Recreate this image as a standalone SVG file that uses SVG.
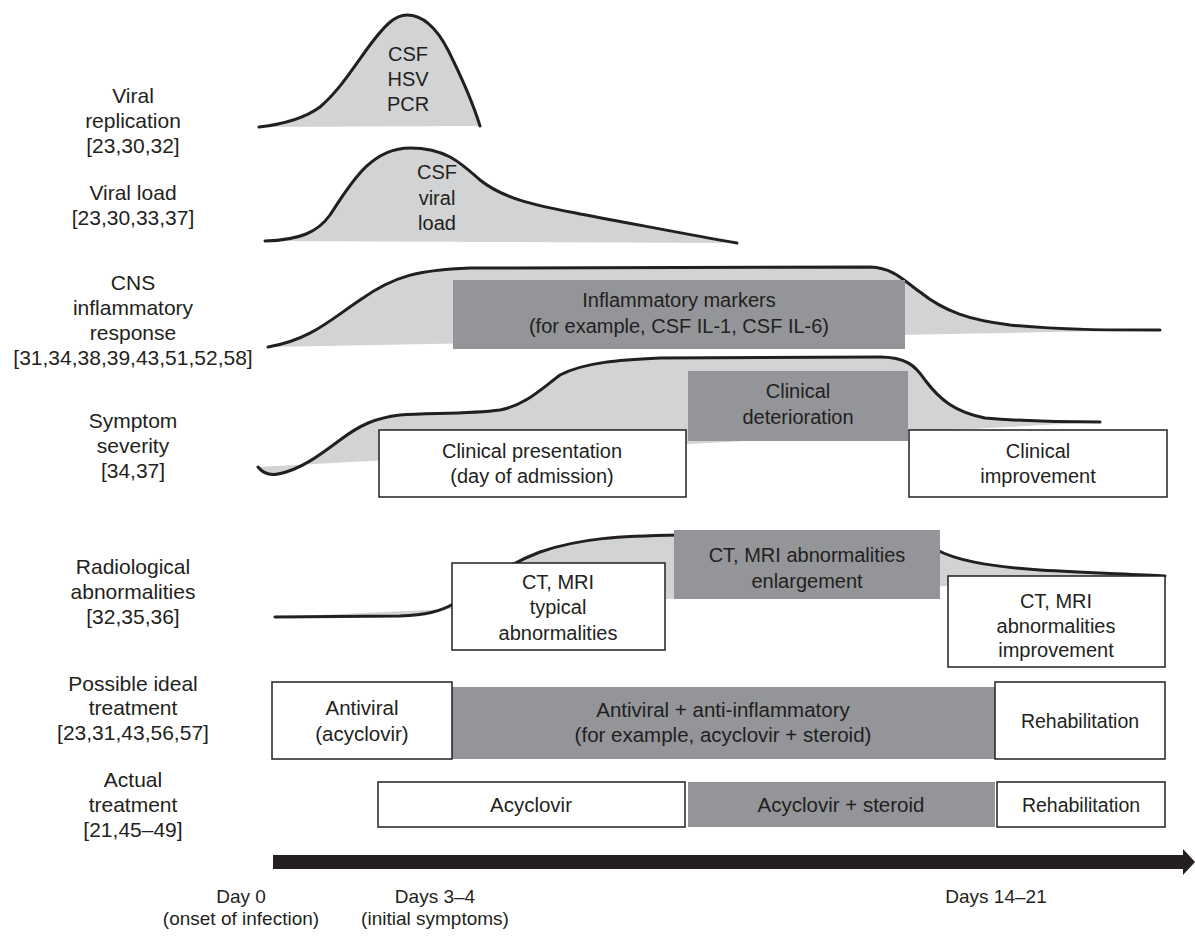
<svg xmlns="http://www.w3.org/2000/svg" width="1195" height="938" viewBox="0 0 1195 938">
<style>
text{font-family:"Liberation Sans",Arial,sans-serif;fill:#231f20;text-anchor:middle}
.lbl{font-size:21px}
.in{font-size:20px}
.big{font-size:20.5px}
.ax{font-size:19px}
.sm{font-size:19.5px}
.area{fill:#d1d3d4;stroke:none}
.curve{fill:none;stroke:#231f20;stroke-width:3;stroke-linecap:round;stroke-linejoin:round}
.wbox{fill:#fff;stroke:#231f20;stroke-width:1.5}
.dbox{fill:#939598;stroke:none}
</style>
<rect width="1195" height="938" fill="#fff"/>
<g id="labels">
<text class="lbl" x="133" y="103">Viral</text>
<text class="lbl" x="133" y="128">replication</text>
<text class="lbl" x="133" y="153">[23,30,32]</text>
<text class="lbl" x="133" y="200">Viral load</text>
<text class="lbl" x="133" y="225">[23,30,33,37]</text>
<text class="lbl" x="133" y="290">CNS</text>
<text class="lbl" x="133" y="315">inflammatory</text>
<text class="lbl" x="133" y="340">response</text>
<text class="lbl" x="133" y="365">[31,34,38,39,43,51,52,58]</text>
<text class="lbl" x="133" y="428">Symptom</text>
<text class="lbl" x="133" y="453">severity</text>
<text class="lbl" x="133" y="478">[34,37]</text>
<text class="lbl" x="133" y="574">Radiological</text>
<text class="lbl" x="133" y="599">abnormalities</text>
<text class="lbl" x="133" y="624">[32,35,36]</text>
<text class="lbl" x="133" y="691">Possible ideal</text>
<text class="lbl" x="133" y="715">treatment</text>
<text class="lbl" x="133" y="740">[23,31,43,56,57]</text>
<text class="lbl" x="133" y="787">Actual</text>
<text class="lbl" x="133" y="812">treatment</text>
<text class="lbl" x="133" y="837">[21,45–49]</text>
</g>
<g id="viral-replication">
<path class="area" d="M259,127 C285,124 305,118 320,107 C340,90 355,65 370,45 C385,25 395,15 407,15 C422,15 435,25 448,50 C462,78 472,100 480,126 Z"/>
<path class="curve" d="M259,127 C285,124 305,118 320,107 C340,90 355,65 370,45 C385,25 395,15 407,15 C422,15 435,25 448,50 C462,78 472,100 480,126"/>
<text class="in" x="408" y="61">CSF</text>
<text class="in" x="408" y="86">HSV</text>
<text class="in" x="408" y="111">PCR</text>
</g>
<g id="viral-load">
<path class="area" d="M265,241 C300,240 318,232 330,215 C350,185 370,148 410,148 C445,148 460,162 480,180 C505,200 540,206 580,214 C640,225 690,235 737,243 Z"/>
<path class="curve" d="M265,241 C300,240 318,232 330,215 C350,185 370,148 410,148 C445,148 460,162 480,180 C505,200 540,206 580,214 C640,225 690,235 737,243"/>
<text class="in" x="437" y="179">CSF</text>
<text class="in" x="437" y="205">viral</text>
<text class="in" x="437" y="230">load</text>
</g>
<g id="cns-inflammatory">
<path class="area" d="M268,347 C310,340 330,320 360,300 C395,275 420,270 470,268 L870,267 C895,268 905,282 920,292 C945,312 970,320 1010,325 C1060,330 1110,330 1160,330 Z"/>
<path class="curve" d="M268,347 C310,340 330,320 360,300 C395,275 420,270 470,268 L870,267 C895,268 905,282 920,292 C945,312 970,320 1010,325 C1060,330 1110,330 1160,330"/>
<rect class="dbox" x="453" y="280" width="452" height="69"/>
<text class="in" x="679" y="307">Inflammatory markers</text>
<text class="in" x="679" y="333">(for example, CSF IL-1, CSF IL-6)</text>
</g>
<g id="symptom-severity">
<path class="area" d="M258,467 C262,472 268,476 278,474 C300,470 320,455 340,440 C360,425 375,418 400,415 C430,413 470,414 500,410 C525,405 540,390 560,375 C585,362 620,360 660,358 L880,357 C905,357 915,365 925,380 C940,400 955,412 985,418 C1020,421 1060,422 1100,422 Z"/>
<path class="curve" d="M258,467 C262,472 268,476 278,474 C300,470 320,455 340,440 C360,425 375,418 400,415 C430,413 470,414 500,410 C525,405 540,390 560,375 C585,362 620,360 660,358 L880,357 C905,357 915,365 925,380 C940,400 955,412 985,418 C1020,421 1060,422 1100,422"/>
<rect class="wbox" x="379" y="430" width="307" height="67"/>
<text class="in" x="532" y="458">Clinical presentation</text>
<text class="in" x="532" y="483">(day of admission)</text>
<rect class="dbox" x="688" y="371" width="220" height="70"/>
<text class="in" x="798" y="398">Clinical</text>
<text class="in" x="798" y="424">deterioration</text>
<rect class="wbox" x="909" y="430" width="258" height="67"/>
<text class="in" x="1038" y="458">Clinical</text>
<text class="in" x="1038" y="483">improvement</text>
</g>
<g id="radiological">
<path class="area" d="M275,617 L400,616 C425,615 440,612 455,603 C480,585 505,565 540,552 C580,538 620,536 680,535 L880,534 C910,535 920,540 935,549 C955,560 985,566 1040,570 C1090,573 1130,574 1165,576 Z"/>
<path class="curve" d="M275,617 L400,616 C425,615 440,612 455,603 C480,585 505,565 540,552 C580,538 620,536 680,535 L880,534 C910,535 920,540 935,549 C955,560 985,566 1040,570 C1090,573 1130,574 1165,576"/>
<rect class="wbox" x="452" y="563" width="213" height="87"/>
<text class="in" x="558" y="589">CT, MRI</text>
<text class="in" x="558" y="614">typical</text>
<text class="in" x="558" y="640">abnormalities</text>
<rect class="dbox" x="674" y="530" width="266" height="69"/>
<text class="in" x="807" y="562">CT, MRI abnormalities</text>
<text class="in" x="807" y="588">enlargement</text>
<rect class="wbox" x="948" y="576" width="217" height="91"/>
<text class="in" x="1056" y="608">CT, MRI</text>
<text class="in" x="1056" y="633">abnormalities</text>
<text class="in" x="1056" y="657">improvement</text>
</g>
<g id="ideal-treatment">
<rect class="dbox" x="452" y="687" width="543" height="72"/>
<text class="big" x="723" y="717">Antiviral + anti-inflammatory</text>
<text class="big" x="723" y="742">(for example, acyclovir + steroid)</text>
<rect class="wbox" x="272" y="682" width="180" height="77"/>
<text class="big" x="362" y="715">Antiviral</text>
<text class="big" x="362" y="741">(acyclovir)</text>
<rect class="wbox" x="995" y="682" width="170" height="77"/>
<text class="sm" x="1080" y="728">Rehabilitation</text>
</g>
<g id="actual-treatment">
<rect class="wbox" x="378" y="782" width="307" height="45"/>
<text class="big" x="531" y="812">Acyclovir</text>
<rect class="dbox" x="688" y="782" width="307" height="45"/>
<text class="big" x="841" y="812">Acyclovir + steroid</text>
<rect class="wbox" x="997" y="782" width="168" height="45"/>
<text class="sm" x="1081" y="812">Rehabilitation</text>
</g>
<g id="connectors">
<path d="M273,855 L1183,855 L1183,849 L1195,862 L1183,875 L1183,869 L273,869 Z" fill="#231f20"/>
</g>
<g id="axis-labels">
<text class="ax" x="241" y="903">Day 0</text>
<text class="ax" x="241" y="925">(onset of infection)</text>
<text class="ax" x="435" y="903">Days 3–4</text>
<text class="ax" x="435" y="925">(initial symptoms)</text>
<text class="ax" x="996" y="903">Days 14–21</text>
</g>
</svg>
